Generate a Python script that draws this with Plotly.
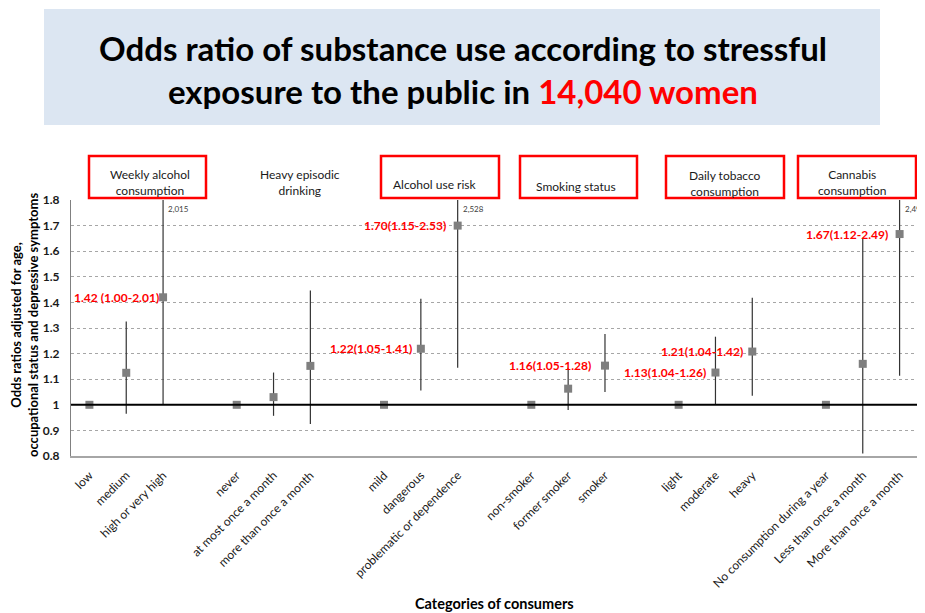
import plotly.graph_objects as go

# groupes de categories
groups = ["Weekly alcohol<br>consumption", "Heavy episodic<br>drinking", "Alcohol use risk",
          "Smoking status", "Daily tobacco<br>consumption", "Cannabis<br>consumption"]
categories = [
    ["low", "medium", "high or very high"],
    ["never", "at most once a month", "more than once a month"],
    ["mild", "dangerous", "problematic or dependence"],
    ["non-smoker", "former smoker", "smoker"],
    ["light", "moderate", "heavy"],
    ["No consumption during a year", "Less than once a month", "More than once a month"],
]

# odds ratios et intervalles
odds = [1.0, 1.125, 1.42, 1.0, 1.03, 1.152, 1.0, 1.219, 1.70,
        1.0, 1.063, 1.153, 1.0, 1.126, 1.208, 1.0, 1.16, 1.667]
lower = [1.0, 0.965, 1.00, 1.0, 0.957, 0.925, 1.0, 1.056, 1.145,
         1.0, 0.98, 1.05, 1.0, 1.0, 1.035, 1.0, 0.81, 1.113]
upper = [1.0, 1.325, 2.015, 1.0, 1.126, 1.446, 1.0, 1.414, 2.528,
         1.0, 1.145, 1.277, 1.0, 1.266, 1.418, 1.0, 1.65, 2.491]

# etiquettes rouges (indice du point -> texte)
red_labels = {2: "1.42 (1.00-2.01)", 8: "1.70(1.15-2.53)", 7: "1.22(1.05-1.41)",
              11: "1.16(1.05-1.28)", 14: "1.21(1.04-1.42)", 13: "1.13(1.04-1.26)",
              17: "1.67(1.12-2.49)"}
red_shift = {2: -2, 8: -10, 7: -7, 11: -12, 14: -7, 13: -7, 17: -10}

# positions : un emplacement vide entre chaque groupe
xpos, xlab = [], []
for g, cats in enumerate(categories):
    for j, c in enumerate(cats):
        xpos.append(g * 4 + j)
        xlab.append(c)

FONT = "Lato"
O = 8  # marge du body html
W, H = 925 - O, 613 - O
L, R, T, B = 71 - O, 7, 200 - O, 157
PW, PH = W - L - R, H - T - B


def px(x):  # pixel de la page -> paper x
    return (x - O - L) / PW


def py(y):  # pixel de la page -> paper y
    return (T + PH - (y - O)) / PH


fig = go.Figure()

fig.add_trace(go.Scatter(
    x=xpos, y=odds, mode="markers",
    marker=dict(symbol="square", size=8, color="#7f7f7f"),
    error_y=dict(type="data", symmetric=False,
                 array=[u - o for u, o in zip(upper, odds)],
                 arrayminus=[o - l for o, l in zip(odds, lower)],
                 color="#333333", thickness=1.2, width=0),
    cliponaxis=True, showlegend=False,
))

shapes = []
# fond du titre
shapes.append(dict(type="rect", xref="paper", yref="paper", x0=px(44), x1=px(880),
                   y0=py(125), y1=py(9), fillcolor="#dce6f2", line=dict(width=0), layer="below"))
# ligne de reference a 1
shapes.append(dict(type="line", xref="paper", yref="y", x0=0, x1=1, y0=1, y1=1,
                   line=dict(color="black", width=2)))
# cadres rouges des groupes
boxes = [(89, 206), (381, 499), (520, 637), (666, 784), (798, 916)]
for x0, x1 in boxes:
    shapes.append(dict(type="rect", xref="paper", yref="paper", x0=px(x0), x1=px(x1),
                       y0=py(198), y1=py(156), line=dict(color="#ff0000", width=2.5)))

ann = []
ann.append(dict(xref="paper", yref="paper", x=px(463), y=py(69), xanchor="center", yanchor="middle",
                showarrow=False,
                text="<b>Odds ratio of substance use according to stressful<br>exposure to the public in "
                     "<span style='color:#ff0000'>14,040 women</span></b>",
                font=dict(family=FONT, size=33, color="black")))
# titres des groupes
head_x = [150, 300, 435, 576, 725, 852]
head_y = [182, 182, 184, 186, 183, 182]
for g, name in enumerate(groups):
    ann.append(dict(xref="paper", yref="paper", x=px(head_x[g]), y=py(head_y[g]),
                    xanchor="center", yanchor="middle", showarrow=False,
                    text=name, font=dict(family=FONT, size=12, color="#1a1a1a")))
for i, t in red_labels.items():
    ann.append(dict(x=xpos[i], y=odds[i], xanchor="right", yanchor="middle", xshift=red_shift[i],
                    showarrow=False,
                    text="<b>" + t + "</b>", font=dict(family=FONT, size=12, color="#ff0000")))
for i, u in enumerate(upper):
    if u > 1.8:
        ann.append(dict(x=xpos[i], yref="paper", y=py(209), xanchor="left", yanchor="middle", xshift=3,
                        showarrow=False,
                        text=f"{u:.3f}".replace(".", ","), font=dict(family=FONT, size=8, color="#404040")))
ann.append(dict(xref="paper", yref="paper", x=px(24), y=py(325), xanchor="center", yanchor="middle",
                showarrow=False, textangle=-90,
                text="<b>Odds ratios adjusted for age,<br>occupational status and depressive symptoms</b>",
                font=dict(family=FONT, size=13, color="black")))
ann.append(dict(xref="paper", yref="paper", x=0.5, y=py(603), xanchor="center", yanchor="middle",
                showarrow=False,
                text="<b>Categories of consumers</b>", font=dict(family=FONT, size=14.5, color="black")))

fig.update_layout(
    width=W, height=H, margin=dict(l=L, r=R, t=T, b=B),
    paper_bgcolor="white", plot_bgcolor="white",
    shapes=shapes, annotations=ann,
    xaxis=dict(range=[-0.5, 22.5], tickvals=xpos, ticktext=xlab, tickangle=-45,
               showgrid=False, zeroline=False, showline=True, linecolor="#a6a6a6", linewidth=1.5,
               ticks="", ticklabelstandoff=6, tickfont=dict(family=FONT, size=12, color="#1a1a1a")),
    yaxis=dict(range=[0.8, 1.8], tickvals=[0.8, 0.9, 1, 1.1, 1.2, 1.3, 1.4, 1.5, 1.6, 1.7, 1.8],
               ticktext=["0.8", "0.9", "1", "1.1", "1.2", "1.3", "1.4", "1.5", "1.6", "1.7", "1.8"],
               showgrid=True, gridcolor="#a6a6a6", griddash="dot", gridwidth=1,
               zeroline=False, showline=True, linecolor="#808080", linewidth=1.2,
               ticks="", ticklabelstandoff=8,
               tickfont=dict(family=FONT, size=12, color="#1a1a1a", weight="bold")),
)

fig.write_html("out.html")
